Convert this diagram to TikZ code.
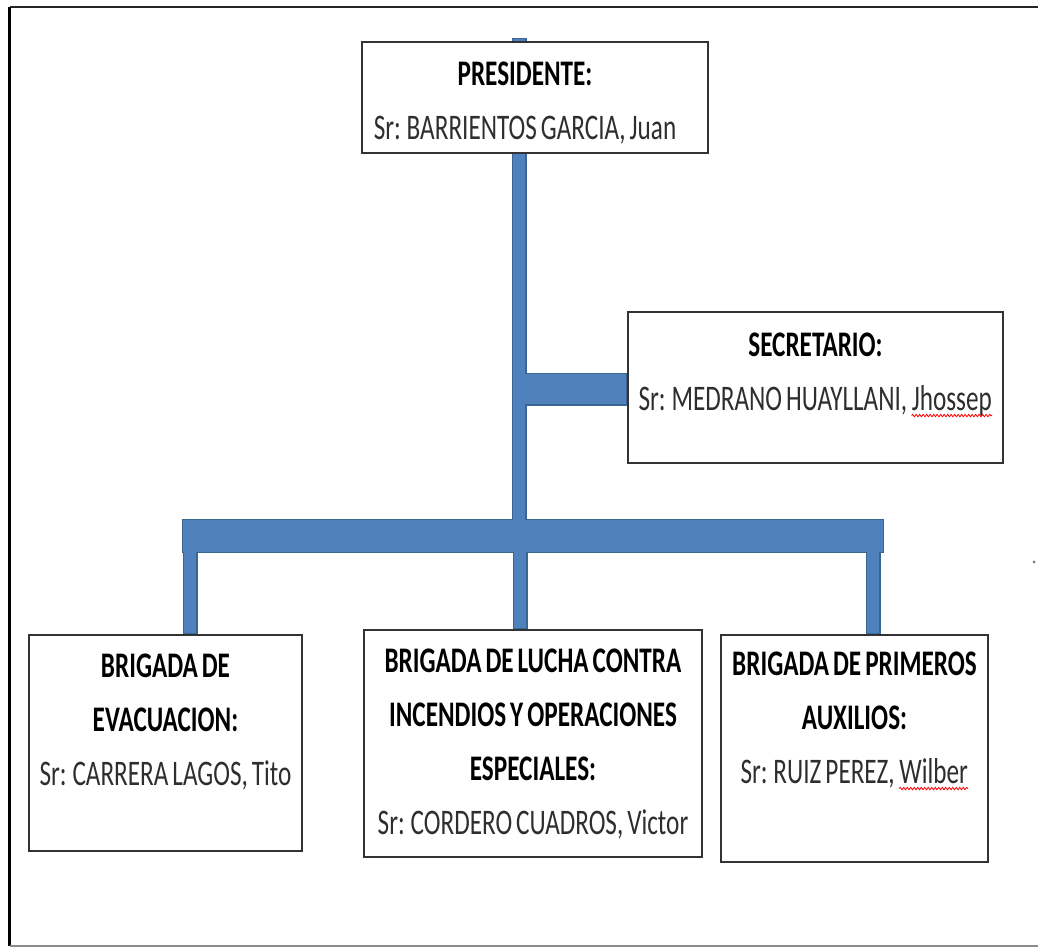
\documentclass[tikz,border=0pt]{standalone}
\usepackage{fontspec}
\setmainfont[FakeStretch=0.70, WordSpace=0.7]{Carlito}
\usetikzlibrary{positioning,backgrounds,decorations.pathmorphing}

\definecolor{linkblue}{HTML}{4F81BD}
\definecolor{linkdark}{HTML}{3A6595}
\definecolor{boxgray}{HTML}{333333}
\definecolor{namegray}{HTML}{2E2E2E}

\newcommand\spellwave[1]{\tikz[baseline=(w.base)]{\node[inner sep=0pt] (w) {#1};
  \draw[red, line width=0.8pt, decorate, decoration={snake, amplitude=1.2pt, segment length=3.5pt}]
    ([yshift=-5pt]w.base west) -- ([yshift=-5pt]w.base east);}}

\begin{document}
\begin{tikzpicture}[x=1pt, y=-1pt,
  box/.style = {draw=boxgray, line width=2.5pt, fill=white, inner sep=0pt},
  txt/.style = {align=center, inner sep=0pt, font=\fontsize{36}{54}\selectfont},
  linkedge/.style = {draw=linkdark},
  linkfill/.style = {draw=linkblue, shorten <=1.25pt, shorten >=1.25pt}]
\useasboundingbox (0,0) rectangle (1038,947);

% frame
\draw[line width=2pt, black!85] (1038,7) -- (9.5,7);
\draw[line width=3pt, black] (9.5,7) -- (9.5,946);
\draw[line width=1.5pt, black!45] (9.5,946) -- (1038,946);
\fill[black!55] (1034,562) circle (1.5pt);

% boxes
\node[box, minimum width=346pt, minimum height=111pt] (pres) at (535,97.5) {};
\node[box, minimum width=375pt, minimum height=151pt] (sec) at (815.5,387.5) {};
\node[box, minimum width=273pt, minimum height=216pt] (evac) at (165.5,743) {};
\node[box, minimum width=338pt, minimum height=227pt] (fire) at (533,743.5) {};
\node[box, minimum width=267pt, minimum height=227pt] (aid) at (854.5,748.5) {};

\node[txt, below=21pt of pres.north, xshift=-10pt] (prestxt)
  {\textbf{PRESIDENTE:}\\ \textcolor{namegray}{Sr: BARRIENTOS GARCIA, Juan}};
\node[txt, below=22pt of sec.north] (sectxt)
  {\textbf{SECRETARIO:}\\ \textcolor{namegray}{Sr: MEDRANO HUAYLLANI, \spellwave{Jhossep}}};
\node[txt, below=20pt of evac.north] (evactxt)
  {\textbf{BRIGADA DE}\\ \textbf{EVACUACION:}\\ \textcolor{namegray}{Sr: CARRERA LAGOS, Tito}};
\node[txt, below=20pt of fire.north] (firetxt)
  {\textbf{BRIGADA DE LUCHA CONTRA}\\ \textbf{INCENDIOS Y OPERACIONES}\\ \textbf{ESPECIALES:}\\ \textcolor{namegray}{Sr: CORDERO CUADROS, Victor}};
\node[txt, below=18pt of aid.north] (aidtxt)
  {\textbf{BRIGADA DE PRIMEROS}\\ \textbf{AUXILIOS:}\\ \textcolor{namegray}{Sr: RUIZ PEREZ, \spellwave{Wilber}}};

% connectors
\coordinate (ptop) at (519,38);
\coordinate (hub) at (519,536);
\coordinate (barL) at (182,536);
\coordinate (barR) at (884,536);
\coordinate (armL) at (519,389);
\coordinate (dropL) at (190,536);
\coordinate (dropM) at (520,536);
\coordinate (dropR) at (873,536);

\begin{pgfonlayer}{background}
\draw[linkedge, line width=15pt] (ptop) -- (hub);
\draw[linkedge, line width=33pt] (armL) -- (armL -| sec.west);
\draw[linkedge, line width=34pt] (barL) -- (barR);
\draw[linkedge, line width=15pt] (dropL) -- (dropL |- evac.north);
\draw[linkedge, line width=15pt] (dropM) -- (dropM |- fire.north);
\draw[linkedge, line width=15pt] (dropR) -- (dropR |- aid.north);
\draw[linkfill, line width=12.5pt] (ptop) -- (hub);
\draw[linkfill, line width=30.5pt] (armL) -- (armL -| sec.west);
\draw[linkfill, line width=31.5pt] (barL) -- (barR);
\draw[linkfill, line width=12.5pt] (dropL) -- (dropL |- evac.north);
\draw[linkfill, line width=12.5pt] (dropM) -- (dropM |- fire.north);
\draw[linkfill, line width=12.5pt] (dropR) -- (dropR |- aid.north);
\end{pgfonlayer}
\end{tikzpicture}
\end{document}
